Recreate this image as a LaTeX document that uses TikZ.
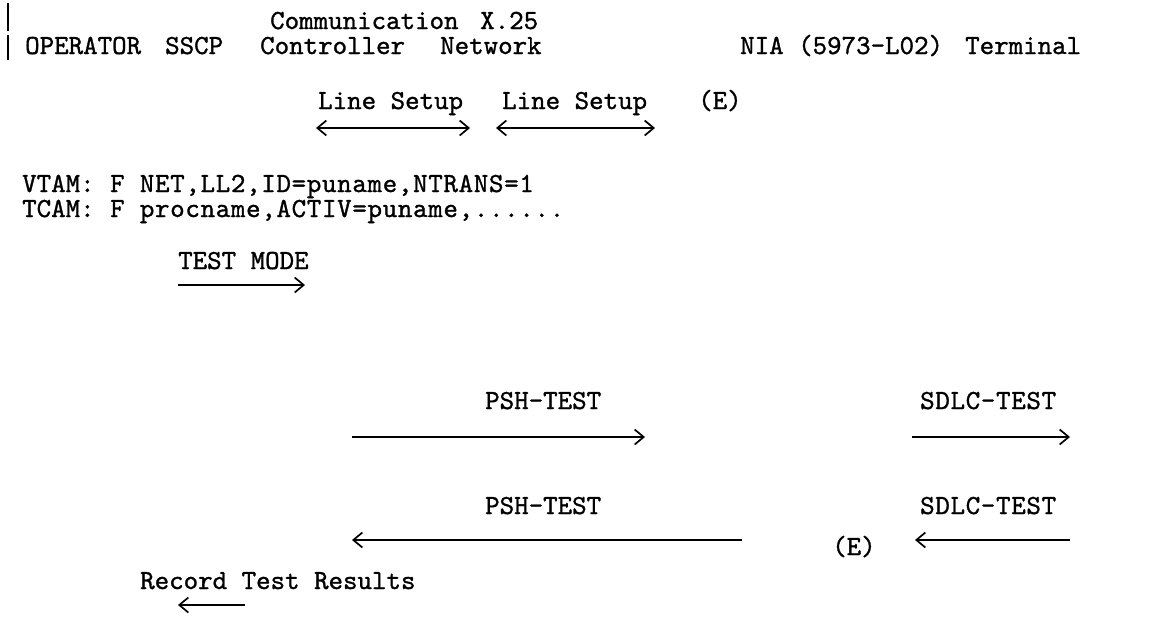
\documentclass[tikz,border=0pt]{standalone}
\usepackage{fontspec}
\newfontfamily\twfont[FakeBold=1.1]{lmmono10-regular.otf}
\newfontfamily\twwide[FakeBold=1.1,LetterSpace=2.5]{lmmono10-regular.otf}
\usetikzlibrary{arrows.meta}
\begin{document}
\begin{tikzpicture}[x=1pt,y=-1pt,
  txt/.style={inner sep=0pt,anchor=base west,font=\fontsize{27.6}{28}\twfont},
  wtxt/.style={inner sep=0pt,anchor=base west,font=\fontsize{27.6}{28}\twwide},
  msg/.style={line width=1.7pt},
  tipR/.style={-{Straight Barb[length=9pt,width=15pt]}},
  tipL/.style={{Straight Barb[length=9pt,width=15pt]}-},
  tipB/.style={{Straight Barb[length=9pt,width=15pt]}-{Straight Barb[length=9pt,width=15pt]}}]
\useasboundingbox[fill=white] (0,0) rectangle (1163,632);
% left bar
\coordinate (b1) at (8,3); \coordinate (b2) at (8,31);
\coordinate (b3) at (8,35); \coordinate (b4) at (8,60);
\draw[line width=2.2pt] (b1) -- (b2);
\draw[line width=2.2pt] (b3) -- (b4);
% headers
\node[txt] (comm) at (270,29) {Communication};
\node[txt] (x25) at (480,29) {X.25};
\node[txt] (oper) at (25,54) {OPERATOR};
\node[txt] (sscp) at (165,54) {SSCP};
\node[txt] (ctrl) at (260,54) {Controller};
\node[txt] (net) at (440,54) {Network};
\node[txt] (nia) at (740,54) {NIA (5973-L02)};
\node[txt] (term) at (965,54) {Terminal};
% line setup
\node[txt] (ls1) at (318,109) {Line Setup};
\node[txt] (ls2) at (502,109) {Line Setup};
\node[txt] (e1) at (698,109) {(E)};
\coordinate (ls1a) at (316,128); \coordinate (ls1b) at (470,128);
\coordinate (ls2a) at (496,128); \coordinate (ls2b) at (655,128);
\draw[msg,tipB] (ls1a) -- (ls1b);
\draw[msg,tipB] (ls2a) -- (ls2b);
% commands
\node[txt] (vtam) at (22,192) {VTAM:};
\node[wtxt] (vcmd) at (110,192) {F NET,LL2,ID=puname,NTRANS=1};
\node[txt] (tcam) at (22,217) {TCAM:};
\node[wtxt] (tcmd) at (110,217) {F procname,ACTIV=puname,......};
% test mode
\node[txt] (tm) at (178,269) {TEST MODE};
\coordinate (tma) at (178,285); \coordinate (tmb) at (305,285);
\draw[msg,tipR] (tma) -- (tmb);
% PSH / SDLC test forward
\node[txt] (psh1) at (485,409) {PSH-TEST};
\node[wtxt] (sdlc1) at (920,409) {SDLC-TEST};
\coordinate (p1a) at (352,437); \coordinate (p1b) at (645,437);
\coordinate (s1a) at (912,437); \coordinate (s1b) at (1070,437);
\draw[msg,tipR] (p1a) -- (p1b);
\draw[msg,tipR] (s1a) -- (s1b);
% PSH / SDLC test back
\node[txt] (psh2) at (485,514) {PSH-TEST};
\node[wtxt] (sdlc2) at (920,514) {SDLC-TEST};
\node[txt] (e2) at (832,555) {(E)};
\coordinate (p2a) at (352,540); \coordinate (p2b) at (742,540);
\coordinate (s2a) at (915,540); \coordinate (s2b) at (1070,540);
\draw[msg,tipL] (p2a) -- (p2b);
\draw[msg,tipL] (s2a) -- (s2b);
% record
\node[txt] (rec) at (140,589) {Record Test Results};
\coordinate (ra) at (178,605); \coordinate (rb) at (245,605);
\draw[msg,tipL] (ra) -- (rb);
\end{tikzpicture}
\end{document}
